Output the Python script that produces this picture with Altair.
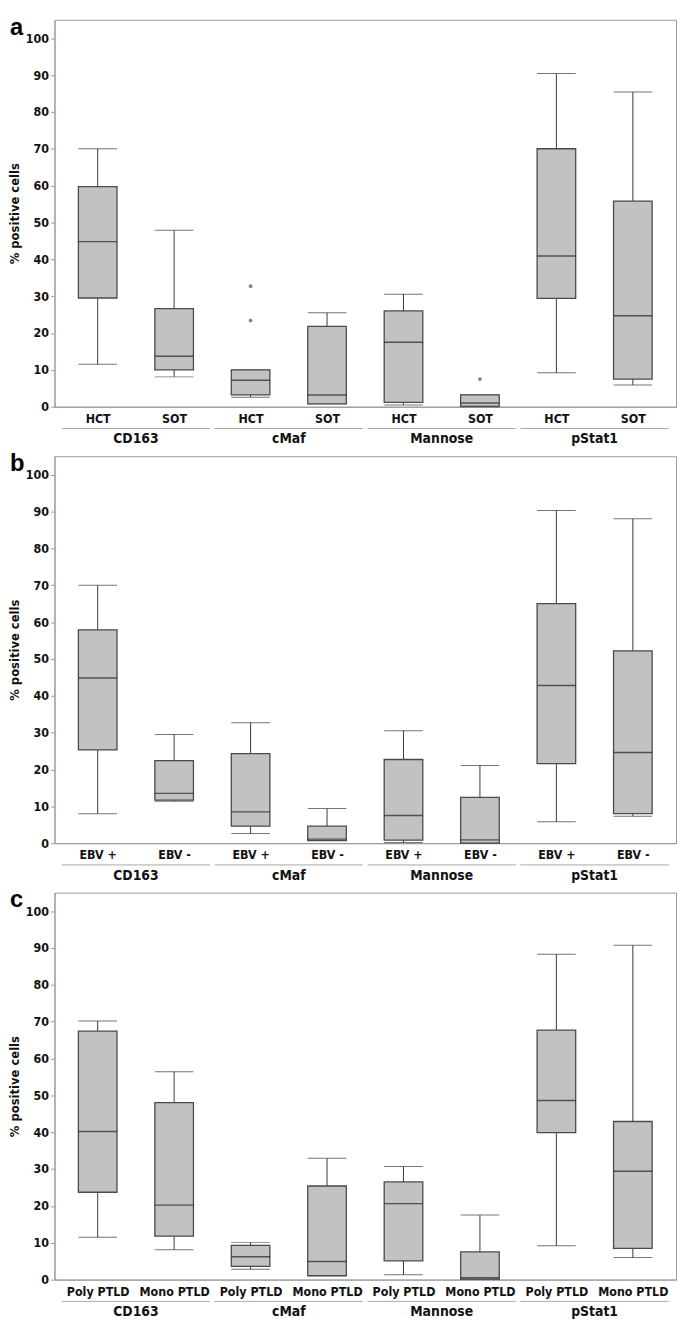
import altair as alt
import pandas as pd

markers = ["CD163", "cMaf", "Mannose", "pStat1"]

subs_a = ["HCT", "SOT"]
low_a = [11.5, 8.1, 2.6, 0.8, 0.5, 0.0, 9.2, 5.9]
q1_a = [29.5, 10.0, 3.2, 0.8, 1.2, 0.1, 29.4, 7.5]
med_a = [44.8, 13.7, 7.2, 3.2, 17.5, 1.0, 40.9, 24.7]
q3_a = [59.7, 26.6, 10.0, 21.8, 26.0, 3.2, 70.0, 55.8]
high_a = [70.0, 47.9, 10.0, 25.5, 30.5, 3.2, 90.4, 85.4]
out_box_a = [2, 2, 5]
out_val_a = [32.7, 23.4, 7.5]

subs_b = ["EBV +", "EBV -"]
low_b = [8.0, 11.4, 2.6, 0.7, 0.2, 0.0, 5.8, 7.3]
q1_b = [25.3, 11.7, 4.6, 0.7, 0.8, 0.0, 21.6, 8.0]
med_b = [44.8, 13.5, 8.5, 1.1, 7.5, 0.9, 42.8, 24.6]
q3_b = [57.9, 22.4, 24.3, 4.6, 22.7, 12.4, 65.0, 52.2]
high_b = [70.0, 29.5, 32.7, 9.4, 30.5, 21.1, 90.3, 88.0]

subs_c = ["Poly PTLD", "Mono PTLD"]
low_c = [11.5, 8.1, 2.8, 1.0, 1.3, 0.0, 9.2, 6.0]
q1_c = [23.7, 11.8, 3.6, 1.1, 5.1, 0.1, 39.9, 8.5]
med_c = [40.2, 20.2, 6.2, 4.9, 20.6, 0.5, 48.6, 29.4]
q3_c = [67.4, 48.0, 9.3, 25.4, 26.5, 7.5, 67.7, 42.9]
high_c = [70.2, 56.4, 10.1, 32.9, 30.7, 17.5, 88.3, 90.7]

W = 628
H = 391
BOX = 39
FONT = "DejaVu Sans Condensed, Liberation Sans Narrow, Roboto, sans-serif"


def panel(letter, subs, low, q1, med, q3, high, out_box=(), out_val=()):
    df = pd.DataFrame({
        "pos": [i + 0.5 for i in range(8)],
        "low": low, "q1": q1, "med": med, "q3": q3, "high": high,
    })
    grp = pd.DataFrame({
        "marker": markers,
        "start": [2 * k + 0.03 for k in range(4)],
        "end": [2 * k + 1.97 for k in range(4)],
        "mid": [2 * k + 1.0 for k in range(4)],
    })
    outs = pd.DataFrame({"pos": [b + 0.5 for b in out_box], "v": list(out_val)})
    lab = pd.DataFrame({"letter": [letter]})

    label_expr = "(datum.value % 2) < 1 ? '" + subs[0] + "' : '" + subs[1] + "'"
    xaxis = alt.Axis(values=[i + 0.5 for i in range(8)], labelExpr=label_expr,
                     title=None, ticks=False, grid=False, domainColor="#9a9a9a",
                     labelFont=FONT, labelFontWeight="bold", labelFontSize=12.5,
                     labelColor="#111", labelPadding=6)
    xs = alt.Scale(domain=[0, 8], nice=False, zero=False)

    def X(f):
        return alt.X(f, scale=xs, axis=xaxis)

    yaxis = alt.Axis(values=list(range(0, 101, 10)), title="% positive cells",
                     grid=False, tickSize=4, tickColor="#9a9a9a", domainColor="#9a9a9a",
                     labelFont=FONT, labelFontWeight="bold", labelFontSize=12.5,
                     labelColor="#111", labelPadding=2,
                     titleFont=FONT, titleFontWeight="bold", titleFontSize=13,
                     titleColor="#111", titlePadding=4)
    ys = alt.Scale(domain=[0, 105], nice=False, zero=True)

    base = alt.Chart(df)
    whisk = base.mark_rule(color="#3a3a3a", strokeWidth=1).encode(
        x=X("pos:Q"), y=alt.Y("low:Q", scale=ys, axis=yaxis), y2="high:Q")
    capl = base.mark_tick(orient="horizontal", size=BOX, thickness=1, color="#3a3a3a").encode(
        x=X("pos:Q"), y=alt.Y("low:Q", scale=ys, axis=yaxis))
    caph = base.mark_tick(orient="horizontal", size=BOX, thickness=1, color="#3a3a3a").encode(
        x=X("pos:Q"), y=alt.Y("high:Q", scale=ys, axis=yaxis))
    box = base.mark_bar(size=BOX, fill="#c2c2c2", stroke="#4a4a4a", strokeWidth=1.3).encode(
        x=X("pos:Q"), y=alt.Y("q1:Q", scale=ys, axis=yaxis), y2="q3:Q")
    med_t = base.mark_tick(orient="horizontal", size=BOX, thickness=1.4, color="#222").encode(
        x=X("pos:Q"), y=alt.Y("med:Q", scale=ys, axis=yaxis))
    layers = [whisk, capl, caph, box, med_t]
    if len(outs):
        pts = alt.Chart(outs).mark_circle(size=14, color="#808080", opacity=1).encode(
            x=X("pos:Q"), y=alt.Y("v:Q", scale=ys, axis=yaxis))
        layers.append(pts)
    sep = alt.Chart(grp).mark_rule(color="#a8a8a8", strokeWidth=1).encode(
        x=X("start:Q"), x2="end:Q", y=alt.value(H + 22))
    gtxt = alt.Chart(grp).mark_text(font=FONT, fontWeight="bold", fontSize=14,
                                    color="#111", baseline="middle").encode(
        x=X("mid:Q"), y=alt.value(H + 33), text="marker:N")
    ltr = alt.Chart(lab).mark_text(font="Liberation Sans, sans-serif", fontWeight="bold",
                                   fontSize=24, color="#000", align="left",
                                   baseline="alphabetic").encode(
        x=alt.value(-45), y=alt.value(15), text="letter:N")
    layers += [sep, gtxt, ltr]
    return alt.layer(*layers).properties(width=W, height=H)


pa = panel("a", subs_a, low_a, q1_a, med_a, q3_a, high_a, out_box_a, out_val_a)
pb = panel("b", subs_b, low_b, q1_b, med_b, q3_b, high_b)
pc = panel("c", subs_c, low_c, q1_c, med_c, q3_c, high_c)

chart = alt.vconcat(pa, pb, pc, spacing=4).configure(
    padding=0,
    background="white",
).configure_view(stroke="#9a9a9a", strokeWidth=1)

chart.save("out.html", embed_options={"renderer": "svg", "actions": False})
